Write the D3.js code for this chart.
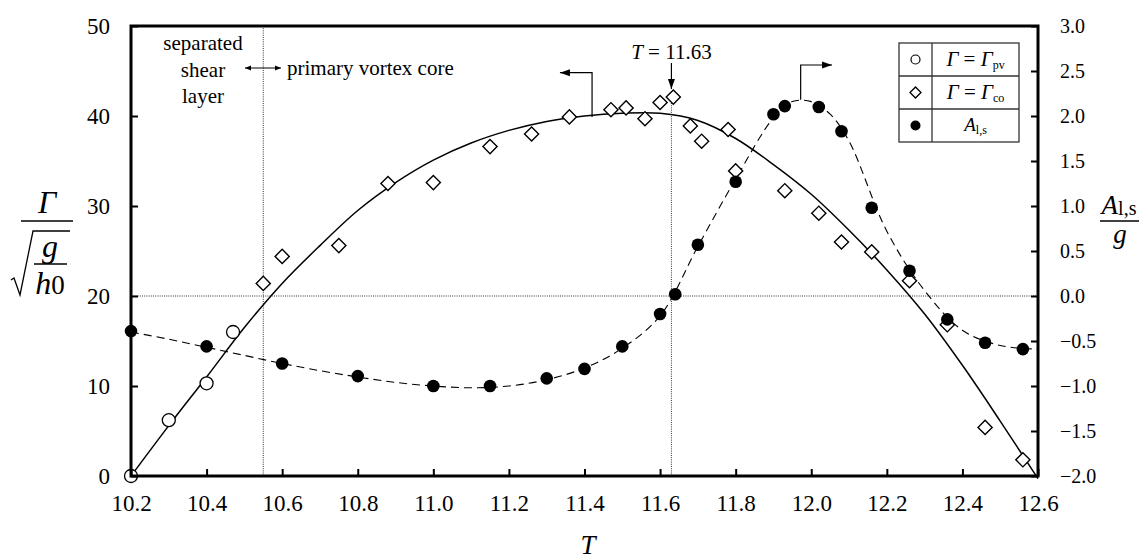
<!DOCTYPE html>
<html><head><meta charset="utf-8">
<script src="https://cdn.jsdelivr.net/npm/d3@7"></script>
<style>
html,body{margin:0;padding:0;background:#fff;}
svg, svg text{font-family:"Liberation Serif","Tinos","Times New Roman","Times","DejaVu Serif",serif;}
</style></head><body>
<svg id="chart" width="1145" height="559"></svg>
<script>
// ---- data ----
const xTicks = [10.2,10.4,10.6,10.8,11.0,11.2,11.4,11.6,11.8,12.0,12.2,12.4,12.6];
const leftTicks = [0,10,20,30,40,50];
const rightTicks = [-2.0,-1.5,-1.0,-0.5,0.0,0.5,1.0,1.5,2.0,2.5,3.0];

const pvT = [10.2, 10.3, 10.4, 10.47];
const pvG = [0, 6.2, 10.3, 16.0];

const coT = [10.55,10.6,10.75,10.88,11.0,11.15,11.26,11.36,11.47,11.51,11.56,11.6,11.635,11.68,11.71,11.78,11.80,11.93,12.02,12.08,12.16,12.26,12.36,12.46,12.56];
const coG = [21.4,24.4,25.6,32.5,32.6,36.6,38.0,39.9,40.7,40.9,39.7,41.5,42.1,38.9,37.2,38.5,33.9,31.7,29.2,26.0,24.9,21.7,16.8,5.4,1.8];

const aT = [10.2,10.4,10.6,10.8,11.0,11.15,11.3,11.4,11.5,11.6,11.64,11.7,11.8,11.9,11.93,12.02,12.08,12.16,12.26,12.36,12.46,12.56];
const aV = [-0.39,-0.56,-0.75,-0.89,-1.0,-1.0,-0.915,-0.81,-0.56,-0.2,0.02,0.57,1.27,2.02,2.11,2.10,1.83,0.98,0.28,-0.26,-0.52,-0.59];

// fitted curves
const gFitT = [10.2,10.3,10.4,10.5,10.6,10.7,10.8,10.9,11.0,11.1,11.2,11.3,11.4,11.5,11.6,11.7,11.8,11.9,12.0,12.1,12.2,12.3,12.4,12.5,12.6];
const gFitV = [0,5.6,11.0,16.5,21.4,25.6,29.5,32.6,35.1,37.0,38.4,39.4,40.0,40.3,40.3,39.5,37.5,34.6,31.3,27.3,22.9,18.0,12.3,6.1,-0.3];
const aFitT = [10.2,10.3,10.4,10.5,10.6,10.7,10.8,10.9,11.0,11.1,11.2,11.3,11.4,11.5,11.6,11.7,11.8,11.9,11.95,12.0,12.05,12.1,12.2,12.3,12.4,12.5,12.6];
const aFitV = [-0.40,-0.48,-0.57,-0.66,-0.75,-0.83,-0.90,-0.96,-1.00,-1.02,-1.00,-0.93,-0.80,-0.58,-0.22,0.55,1.30,1.98,2.16,2.16,2.02,1.72,0.72,0.06,-0.38,-0.55,-0.59];

const tMarker = 11.63, tBoundary = 10.55;

// ---- layout ----
const X0 = 131, X1 = 1038, Y0 = 26, Y1 = 476;
const FONT = "Liberation Serif, Tinos, Times New Roman, Times, DejaVu Serif, serif";
const svg = d3.select("#chart").attr("font-family",FONT);
const x = d3.scaleLinear().domain([10.2,12.6]).range([X0,X1]);
const yL = d3.scaleLinear().domain([0,50]).range([Y1,Y0]);
const yR = d3.scaleLinear().domain([-2,3]).range([Y1,Y0]);

const defs = svg.append("defs");
function marker(id, orient){
  defs.append("marker").attr("id",id).attr("viewBox","0 0 10 10").attr("refX",10).attr("refY",5)
    .attr("markerWidth",10).attr("markerHeight",10).attr("markerUnits","userSpaceOnUse").attr("orient",orient)
    .append("path").attr("d","M0,1.5 L10,5 L0,8.5 Z").attr("fill","#000");
}
marker("arr","auto");
defs.append("marker").attr("id","sm").attr("viewBox","0 0 10 10").attr("refX",10).attr("refY",5)
  .attr("markerWidth",6).attr("markerHeight",6).attr("markerUnits","userSpaceOnUse").attr("orient","auto-start-reverse")
  .append("path").attr("d","M0,1 L10,5 L0,9 Z").attr("fill","#000");

// reference dotted lines
function dotted(sel){return sel.attr("stroke","#333").attr("stroke-width",1).attr("stroke-dasharray","1,1.2");}
dotted(svg.append("line").attr("x1",X0).attr("x2",X1).attr("y1",yR(0)).attr("y2",yR(0)));
dotted(svg.append("line").attr("x1",x(tBoundary)).attr("x2",x(tBoundary)).attr("y1",Y0).attr("y2",Y1));
dotted(svg.append("line").attr("x1",x(tMarker)).attr("x2",x(tMarker)).attr("y1",92).attr("y2",Y1));

// curves
const gLine = d3.line().x(d=>x(d[0])).y(d=>yL(d[1])).curve(d3.curveCatmullRom.alpha(0.5));
const aLine = d3.line().x(d=>x(d[0])).y(d=>yR(d[1])).curve(d3.curveCatmullRom.alpha(0.5));
svg.append("path").attr("d",gLine(d3.zip(gFitT,gFitV))).attr("fill","none").attr("stroke","#000").attr("stroke-width",1.5);
svg.append("path").attr("d",aLine(d3.zip(aFitT,aFitV))).attr("fill","none").attr("stroke","#000").attr("stroke-width",1.1).attr("stroke-dasharray","8,5");

// markers
const diamond = d3.symbol().type(d3.symbolSquare).size(100);
svg.append("g").selectAll("path").data(d3.zip(coT,coG)).join("path")
  .attr("d",diamond).attr("transform",d=>`translate(${x(d[0])},${yL(d[1])}) rotate(45)`)
  .attr("fill","#fff").attr("stroke","#000").attr("stroke-width",1.4);
svg.append("g").selectAll("circle").data(d3.zip(pvT,pvG)).join("circle")
  .attr("cx",d=>x(d[0])).attr("cy",d=>yL(d[1])).attr("r",6.5)
  .attr("fill","#fff").attr("stroke","#000").attr("stroke-width",1.3);
svg.append("g").selectAll("circle").data(d3.zip(aT,aV)).join("circle")
  .attr("cx",d=>x(d[0])).attr("cy",d=>yR(d[1])).attr("r",6.3).attr("fill","#000");

// axes
const fmt1 = d3.format(".1f");
const axB = svg.append("g").attr("transform",`translate(0,${Y1})`)
  .call(d3.axisBottom(x).tickValues(xTicks).tickFormat(fmt1).tickSizeInner(-7).tickSizeOuter(0).tickPadding(19));
const axL = svg.append("g").attr("transform",`translate(${X0},0)`)
  .call(d3.axisLeft(yL).tickValues(leftTicks).tickFormat(d3.format("d")).tickSizeInner(-7).tickSizeOuter(0).tickPadding(21));
const axR = svg.append("g").attr("transform",`translate(${X1},0)`)
  .call(d3.axisRight(yR).tickValues(rightTicks).tickFormat(fmt1).tickSizeInner(-7).tickSizeOuter(0).tickPadding(22));
[axB,axL,axR].forEach(a=>{
  a.attr("font-family",FONT);
  a.select(".domain").remove();
  a.selectAll(".tick line").attr("stroke","#000").attr("stroke-width",2);
  a.selectAll(".tick text").attr("fill","#000");
});
axB.attr("font-size",23);
axL.attr("font-size",23);
axR.attr("font-size",20);

// frame
svg.append("rect").attr("x",X0).attr("y",Y0).attr("width",X1-X0).attr("height",Y1-Y0)
  .attr("fill","none").attr("stroke","#000").attr("stroke-width",3);

// annotations
const ann = svg.append("g").attr("font-size",21).attr("fill","#000");
ann.append("text").attr("x",203).attr("y",50).attr("text-anchor","middle").text("separated");
ann.append("text").attr("x",203).attr("y",77).attr("text-anchor","middle").text("shear");
ann.append("text").attr("x",203).attr("y",103).attr("text-anchor","middle").text("layer");
svg.append("line").attr("x1",245).attr("x2",281).attr("y1",68).attr("y2",68).attr("stroke","#000").attr("stroke-width",1.2)
  .attr("marker-start","url(#sm)").attr("marker-end","url(#sm)");
ann.append("text").attr("x",287).attr("y",75).text("primary vortex core");

const tlab = ann.append("text").attr("x",x(tMarker)).attr("y",59).attr("text-anchor","middle");
tlab.append("tspan").attr("font-style","italic").text("T");
tlab.append("tspan").text(" = 11.63");
svg.append("line").attr("x1",x(tMarker)).attr("x2",x(tMarker)).attr("y1",63).attr("y2",89)
  .attr("stroke","#000").attr("stroke-width",1.2).attr("marker-end","url(#arr)");

// pointer arrows to axes
svg.append("path").attr("d",`M${x(11.42)},${yL(39.9)} V72.7 H${x(11.335)}`).attr("fill","none")
  .attr("stroke","#000").attr("stroke-width",1.2).attr("marker-end","url(#arr)");
svg.append("path").attr("d",`M${x(11.972)},${yR(2.18)} V65 H${x(12.055)}`).attr("fill","none")
  .attr("stroke","#000").attr("stroke-width",1.2).attr("marker-end","url(#arr)");

// legend
const LX = 899, LY = 43, LW = 120, RH = 33, DIV = 932;
const lg = svg.append("g");
lg.append("rect").attr("x",LX).attr("y",LY).attr("width",LW).attr("height",RH*3).attr("fill","#fff").attr("stroke","#333").attr("stroke-width",1.3);
lg.append("line").attr("x1",DIV).attr("x2",DIV).attr("y1",LY).attr("y2",LY+RH*3).attr("stroke","#333").attr("stroke-width",1.3);
[1,2].forEach(i=>lg.append("line").attr("x1",LX).attr("x2",LX+LW).attr("y1",LY+RH*i).attr("y2",LY+RH*i).attr("stroke","#333").attr("stroke-width",1.3));
const sx = (LX+DIV)/2;
lg.append("circle").attr("cx",sx).attr("cy",LY+RH*0.5).attr("r",4.5).attr("fill","#fff").attr("stroke","#000").attr("stroke-width",1.2);
lg.append("path").attr("d",d3.symbol().type(d3.symbolSquare).size(60)).attr("transform",`translate(${sx},${LY+RH*1.5}) rotate(45)`)
  .attr("fill","#fff").attr("stroke","#000").attr("stroke-width",1.3);
lg.append("circle").attr("cx",sx).attr("cy",LY+RH*2.5).attr("r",5).attr("fill","#000");
const tx = (DIV+LX+LW)/2;
function gammaRow(i, sub){
  const t = lg.append("text").attr("x",tx).attr("y",LY+RH*i+23).attr("text-anchor","middle").attr("font-size",21);
  t.append("tspan").attr("font-style","italic").text("Γ");
  t.append("tspan").text(" = ");
  t.append("tspan").attr("font-style","italic").text("Γ");
  t.append("tspan").attr("font-size",12).attr("dy",3).text(sub);
}
gammaRow(0,"pv"); gammaRow(1,"co");
const at = lg.append("text").attr("x",tx).attr("y",LY+RH*2+22).attr("text-anchor","middle").attr("font-size",19);
at.append("tspan").attr("font-style","italic").text("A");
at.append("tspan").attr("font-size",12).attr("dy",3).text("l,s");

// axis titles
svg.append("text").attr("x",588).attr("y",554).attr("text-anchor","middle").attr("font-size",27).attr("font-style","italic").text("T");

const lt = svg.append("g");
lt.append("text").attr("x",47).attr("y",213).attr("text-anchor","middle").attr("font-size",32).attr("font-style","italic").text("Γ");
lt.append("line").attr("x1",21).attr("x2",73).attr("y1",221).attr("y2",221).attr("stroke","#000").attr("stroke-width",1.4);
lt.append("path").attr("d","M11,280 L14,278 L20,295 L33,231 H70").attr("fill","none").attr("stroke","#000").attr("stroke-width",1.3);
lt.append("text").attr("x",50).attr("y",257).attr("text-anchor","middle").attr("font-size",32).attr("font-style","italic").text("g");
lt.append("line").attr("x1",34).attr("x2",67).attr("y1",264).attr("y2",264).attr("stroke","#000").attr("stroke-width",1.3);
const h0 = lt.append("text").attr("x",50).attr("y",294).attr("text-anchor","middle").attr("font-size",32);
h0.append("tspan").attr("font-style","italic").text("h");
h0.append("tspan").attr("font-size",27).text("0");

const rt = svg.append("g");
const ra = rt.append("text").attr("x",1119).attr("y",214).attr("text-anchor","middle").attr("font-size",27);
ra.append("tspan").attr("font-style","italic").text("A");
ra.append("tspan").attr("font-size",20).attr("dy",1).text("l,s");
rt.append("line").attr("x1",1100).attr("x2",1139).attr("y1",221).attr("y2",221).attr("stroke","#000").attr("stroke-width",1.4);
rt.append("text").attr("x",1120).attr("y",243).attr("text-anchor","middle").attr("font-size",27).attr("font-style","italic").text("g");
</script>
</body></html>
